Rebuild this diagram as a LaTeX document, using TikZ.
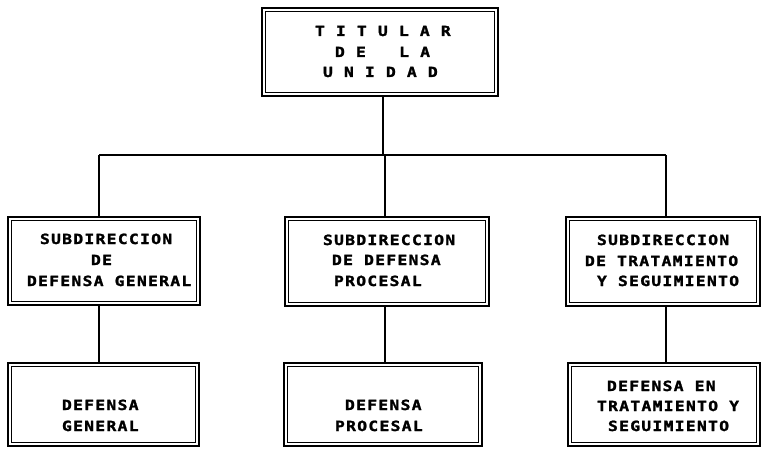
\documentclass[tikz,border=0pt]{standalone}
\usepackage{fontspec}
\newfontfamily\lblfont[LetterSpace=9,FakeStretch=1.17,FakeBold=1.6]{DejaVu Sans Mono}
\begin{document}
\begin{tikzpicture}[x=1pt,y=-1pt,
  box/.style={draw, line width=1.8pt, inner sep=0pt, outer sep=0.9pt, rectangle},
  innerline/.style={draw, line width=0.9pt},
  lbl/.style={anchor=base west, inner sep=0pt, outer sep=0pt,
    font=\lblfont\bfseries\fontsize{14}{18}\selectfont},
  conn/.style={draw, line width=1.2pt}]
\useasboundingbox (0,0) rectangle (762,449);
\clip (0,0) rectangle (762,449);
% boxes
\node[box, minimum width=236.2pt, minimum height=88.2pt] (top) at (380,52) {};
\node[box, minimum width=192.2pt, minimum height=88.2pt] (s1) at (104,261) {};
\node[box, minimum width=204.2pt, minimum height=89.2pt] (s2) at (387,261.5) {};
\node[box, minimum width=194.2pt, minimum height=89.2pt] (s3) at (663,261.5) {};
\node[box, minimum width=191.2pt, minimum height=83.2pt] (b1) at (103.5,404.5) {};
\node[box, minimum width=198.2pt, minimum height=83.2pt] (b2) at (383,404.5) {};
\node[box, minimum width=192.2pt, minimum height=83.2pt] (b3) at (664,404.5) {};
\foreach \n in {top,s1,s2,s3,b1,b2,b3}
  \draw[innerline] ([shift={(4.4,4.4)}]\n.north west) rectangle ([shift={(-4.4,-4.4)}]\n.south east);
% connectors
\coordinate (j0) at (383,155);
\coordinate (j1) at (99,155);
\coordinate (j2) at (385,155);
\coordinate (j3) at (666,155);
\draw[conn] (j0 |- top.south) -- (j0);
\draw[conn] (j1) -- (j3);
\draw[conn] (j1) -- (j1 |- s1.north);
\draw[conn] (j2) -- (j2 |- s2.north);
\draw[conn] (j3) -- (j3 |- s3.north);
\draw[conn] (j1 |- s1.south) -- (j1 |- b1.north);
\draw[conn] (j2 |- s2.south) -- (j2 |- b2.north);
\draw[conn] (j3 |- s3.south) -- (j3 |- b3.north);
% labels
\node[lbl] (t1) at (315,36) {T I T U L A R};
\node[lbl] (t2) at (335,57) {D~E~~~L~A};
\node[lbl] (t3) at (323,77) {U N I D A D};
\node[lbl] (s1a) at (40,244) {SUBDIRECCION};
\node[lbl] (s1b) at (91,265) {DE};
\node[lbl] (s1c) at (27,286) {DEFENSA GENERAL};
\node[lbl] (s2a) at (323,245) {SUBDIRECCION};
\node[lbl] (s2b) at (332,265) {DE DEFENSA};
\node[lbl] (s2c) at (334,286) {PROCESAL};
\node[lbl] (s3a) at (597,245) {SUBDIRECCION};
\node[lbl] (s3b) at (585,266) {DE TRATAMIENTO};
\node[lbl] (s3c) at (597,286) {Y SEGUIMIENTO};
\node[lbl] (b1a) at (62,410) {DEFENSA};
\node[lbl] (b1b) at (62,431) {GENERAL};
\node[lbl] (b2a) at (345,410) {DEFENSA};
\node[lbl] (b2b) at (335,431) {PROCESAL};
\node[lbl] (b3a) at (607,391) {DEFENSA EN};
\node[lbl] (b3b) at (597,411) {TRATAMIENTO Y};
\node[lbl] (b3c) at (608,431) {SEGUIMIENTO};
\end{tikzpicture}
\end{document}
